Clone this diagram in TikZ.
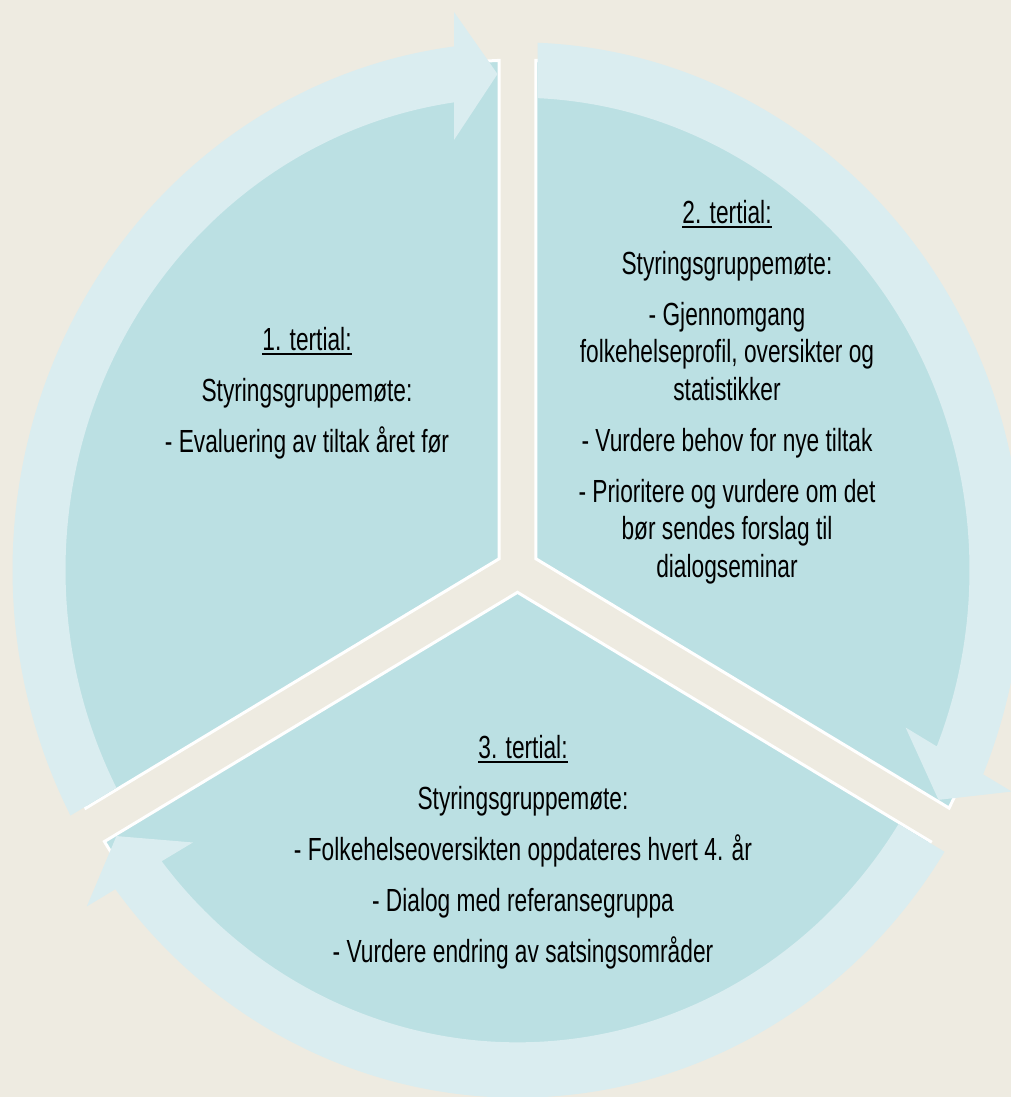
\documentclass[tikz,border=0pt]{standalone}
\usepackage{fontspec}
\setmainfont[FakeStretch=0.71]{Liberation Sans}
\definecolor{bgbeige}{HTML}{EEEBE1}
\definecolor{pieblue}{HTML}{BBE0E3}
\definecolor{ringblue}{HTML}{DAEDF0}
\newcommand\myul[1]{\setbox0\hbox{#1}\rlap{\rule[-5pt]{\wd0}{2pt}}\box0}
\begin{document}
\begin{tikzpicture}[x=1pt,y=1pt,
  sector/.style={fill=pieblue, draw=white, line width=3pt, line join=miter},
  cyclearrow/.style={fill=ringblue},
  sectortext/.style={align=center, inner sep=0pt, anchor=north, text=black,
    font=\fontsize{32}{37.5}\selectfont}]
\useasboundingbox (-517.5,-527) rectangle (493.5,570);
\fill[bgbeige] (-517.5,-527) rectangle (493.5,570);
\begin{scope}[yscale=1.045]
  \foreach \r in {0,-120,-240} {
    \begin{scope}[rotate=\r]
      \path[sector] (150:21.36) -- ({90+asin(18.5/488)}:488)
        arc[start angle={90+asin(18.5/488)}, end angle={210-asin(18.5/488)}, radius=488] -- cycle;
    \end{scope}
  }
  \foreach \r in {0,-120,-240} {
    \begin{scope}[rotate=\r]
      \path[cyclearrow] (207.73:505) arc[start angle=207.73, end angle=97.22, radius=505]
        -- (-63.5,534) -- (-20,474.6) -- (-63.5,411.5) -- (98.07:452)
        arc[start angle=98.07, end angle=207.46, radius=452] -- cycle;
    \end{scope}
  }
\end{scope}
\node[sectortext] (s1) at (-210.5,246.25) {\strut\myul{1. tertial:}\\[13.5pt]
  \strut Styringsgruppemøte:\\[13.5pt]
  \strut - Evaluering av tiltak året før};
\node[sectortext] (s2) at (209.5,373.25) {\strut\myul{2. tertial:}\\[13.5pt]
  \strut Styringsgruppemøte:\\[13.5pt]
  \strut - Gjennomgang\\
  \strut folkehelseprofil, oversikter og\\
  \strut statistikker\\[13.5pt]
  \strut - Vurdere behov for nye tiltak\\[13.5pt]
  \strut - Prioritere og vurdere om det\\
  \strut bør sendes forslag til\\
  \strut dialogseminar};
\node[sectortext] (s3) at (5.5,-161.75) {\strut\myul{3. tertial:}\\[13.5pt]
  \strut Styringsgruppemøte:\\[13.5pt]
  \strut - Folkehelseoversikten oppdateres hvert 4. år\\[13.5pt]
  \strut - Dialog med referansegruppa\\[13.5pt]
  \strut - Vurdere endring av satsingsområder};
\end{tikzpicture}
\end{document}
